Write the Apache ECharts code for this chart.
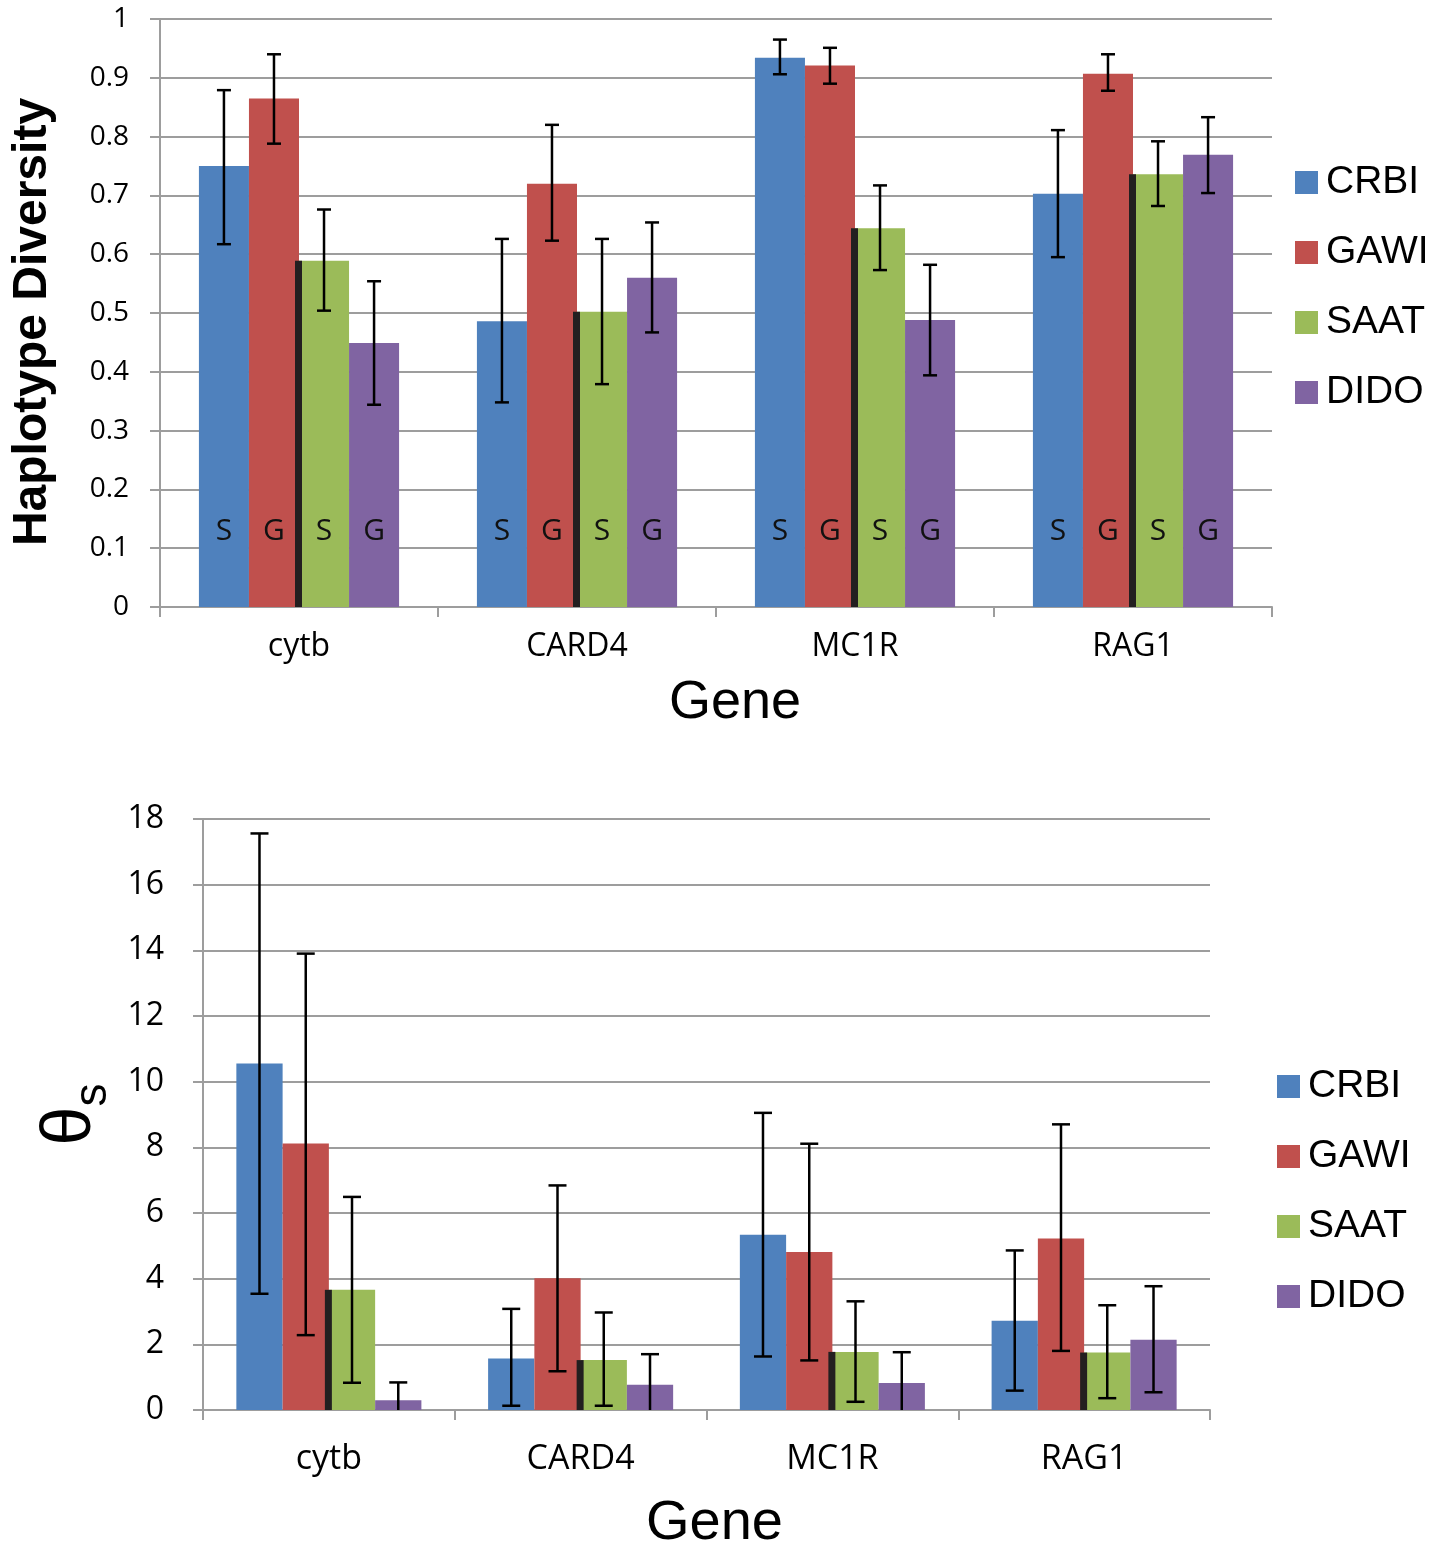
<!DOCTYPE html>
<html>
<head>
<meta charset="utf-8">
<script src="https://cdn.jsdelivr.net/npm/echarts@6/dist/echarts.min.js"></script>
<style>html,body{margin:0;padding:0;background:#fff}#c{width:1452px;height:1553px}</style>
</head>
<body>
<div id="c"></div>
<script>
// ---------- DATA ----------
const categories = ['cytb', 'CARD4', 'MC1R', 'RAG1'];
const populations = ['CRBI', 'GAWI', 'SAAT', 'DIDO'];
const barLetters = ['S', 'G', 'S', 'G'];
const hdTicks = [0, 0.1, 0.2, 0.3, 0.4, 0.5, 0.6, 0.7, 0.8, 0.9, 1];
const thetaTicks = [0, 2, 4, 6, 8, 10, 12, 14, 16, 18];

// Haplotype diversity (top chart)
const hdCRBI   = [0.750, 0.486, 0.934, 0.703];
const hdCRBIlo = [0.617, 0.348, 0.906, 0.595];
const hdCRBIhi = [0.879, 0.626, 0.965, 0.811];
const hdGAWI   = [0.865, 0.720, 0.921, 0.907];
const hdGAWIlo = [0.788, 0.623, 0.890, 0.878];
const hdGAWIhi = [0.940, 0.820, 0.951, 0.940];
const hdSAAT   = [0.589, 0.502, 0.644, 0.736];
const hdSAATlo = [0.504, 0.379, 0.573, 0.682];
const hdSAAThi = [0.676, 0.626, 0.717, 0.792];
const hdDIDO   = [0.449, 0.560, 0.488, 0.769];
const hdDIDOlo = [0.344, 0.467, 0.394, 0.704];
const hdDIDOhi = [0.554, 0.654, 0.582, 0.833];

// Theta S (bottom chart)
const thCRBI   = [10.55, 1.57, 5.34, 2.72];
const thCRBIlo = [3.54, 0.13, 1.63, 0.59];
const thCRBIhi = [17.56, 3.08, 9.05, 4.86];
const thGAWI   = [8.12, 4.01, 4.81, 5.22];
const thGAWIlo = [2.28, 1.18, 1.51, 1.80];
const thGAWIhi = [13.90, 6.84, 8.11, 8.70];
const thSAAT   = [3.66, 1.52, 1.77, 1.75];
const thSAATlo = [0.83, 0.13, 0.25, 0.36];
const thSAAThi = [6.49, 2.97, 3.31, 3.19];
const thDIDO   = [0.30, 0.77, 0.82, 2.14];
const thDIDOlo = [-0.24, -0.16, -0.12, 0.54];
const thDIDOhi = [0.84, 1.70, 1.76, 3.77];

// ---------- BUILD ----------
const colors = ['#4f81bd', '#c0504d', '#9bbb59', '#8064a2'];
const gridColor = '#9d9d9d';
const numFont = 'Open Sans';
const hdVals = [hdCRBI, hdGAWI, hdSAAT, hdDIDO];
const hdLo = [hdCRBIlo, hdGAWIlo, hdSAATlo, hdDIDOlo];
const hdHi = [hdCRBIhi, hdGAWIhi, hdSAAThi, hdDIDOhi];
const thVals = [thCRBI, thGAWI, thSAAT, thDIDO];
const thLo = [thCRBIlo, thGAWIlo, thSAATlo, thDIDOlo];
const thHi = [thCRBIhi, thGAWIhi, thSAAThi, thDIDOhi];

const GAP_TOP = 0.28, GAP_BOT = 0.265;

function errData(lo, hi) {
  const d = [];
  for (let g = 0; g < 4; g++) for (let c = 0; c < categories.length; c++) d.push([c, g, lo[g][c], hi[g][c]]);
  return d;
}
function errRenderer(gapFrac, capW) {
  return function (params, api) {
    const c = api.value(0), g = api.value(1), lo = api.value(2), hi = api.value(3);
    const band = api.size([1, 0])[0];
    const bw = band * (1 - gapFrac) / 4;
    const x = api.coord([c, 0])[0] + (g - 1.5) * bw;
    const yLo = api.coord([c, lo])[1], yHi = api.coord([c, hi])[1];
    const st = { stroke: '#000', lineWidth: 2.5 };
    return { type: 'group', children: [
      { type: 'line', shape: { x1: x, y1: yLo, x2: x, y2: yHi }, style: st },
      { type: 'line', shape: { x1: x - capW / 2, y1: yHi, x2: x + capW / 2, y2: yHi }, style: st },
      { type: 'line', shape: { x1: x - capW / 2, y1: yLo, x2: x + capW / 2, y2: yLo }, style: st }
    ]};
  };
}
function sepRenderer(params, api) {
  const c = api.value(0), v = api.value(1);
  const x = api.coord([c, 0])[0];
  const y0 = api.coord([c, 0])[1], y1 = api.coord([c, v])[1];
  return { type: 'rect', shape: { x: x - 4, y: y1, width: 7, height: y0 - y1 }, style: { fill: '#231f20' } };
}

const series = [];
populations.forEach((p, g) => {
  series.push({
    name: p, type: 'bar', xAxisIndex: 0, yAxisIndex: 0, data: hdVals[g],
    barGap: '0%', barCategoryGap: (GAP_TOP * 100) + '%',
    itemStyle: { color: colors[g] },
    label: { show: true, position: 'insideBottom', distance: 61, formatter: barLetters[g],
      color: '#111', fontSize: 30, fontFamily: numFont }
  });
});
populations.forEach((p, g) => {
  series.push({
    name: p, type: 'bar', xAxisIndex: 1, yAxisIndex: 1, data: thVals[g],
    barGap: '0%', barCategoryGap: (GAP_BOT * 100) + '%',
    itemStyle: { color: colors[g] }
  });
});
series.push({ type: 'custom', xAxisIndex: 0, yAxisIndex: 0, z: 5, renderItem: sepRenderer,
  data: categories.map((c, i) => [i, hdSAAT[i]]), clip: true });
series.push({ type: 'custom', xAxisIndex: 1, yAxisIndex: 1, z: 5, renderItem: sepRenderer,
  data: categories.map((c, i) => [i, thSAAT[i]]), clip: true });
series.push({ type: 'custom', xAxisIndex: 0, yAxisIndex: 0, z: 6, renderItem: errRenderer(GAP_TOP, 14),
  data: errData(hdLo, hdHi), clip: true });
series.push({ type: 'custom', xAxisIndex: 1, yAxisIndex: 1, z: 6, renderItem: errRenderer(GAP_BOT, 18),
  data: errData(thLo, thHi), clip: true });

const legendBase = {
  orient: 'vertical', icon: 'rect', itemWidth: 23, itemHeight: 23, itemGap: 31, padding: 0,
  data: populations,
  textStyle: { fontSize: 39, lineHeight: 39, fontFamily: 'Liberation Sans', color: '#000', padding: [0, 0, 0, 3] }
};

const option = {
  backgroundColor: '#fff',
  animation: false,
  legend: [
    Object.assign({}, legendBase, { left: 1295, top: 163 }),
    Object.assign({}, legendBase, { left: 1277, top: 1067 })
  ],
  grid: [
    { left: 160, top: 19, width: 1112, height: 588 },
    { left: 203, top: 819, width: 1007, height: 596 }
  ],
  xAxis: [
    { type: 'category', gridIndex: 0, data: categories,
      axisLine: { lineStyle: { color: gridColor, width: 2 } },
      axisTick: { show: true, length: 10, lineStyle: { color: gridColor, width: 2 } },
      axisLabel: { margin: 24, fontSize: 32, fontFamily: numFont, color: '#000' },
      name: 'Gene', nameLocation: 'middle', nameGap: 69,
      nameTextStyle: { fontSize: 54, fontFamily: 'Liberation Sans', color: '#000', padding: [0, 0, 0, 38] } },
    { type: 'category', gridIndex: 1, data: categories,
      axisLine: { lineStyle: { color: gridColor, width: 2 } },
      axisTick: { show: true, length: 10, lineStyle: { color: gridColor, width: 2 } },
      axisLabel: { margin: 32, fontSize: 34, fontFamily: numFont, color: '#000' },
      name: 'Gene', nameLocation: 'middle', nameGap: 86,
      nameTextStyle: { fontSize: 56, fontFamily: 'Liberation Sans', color: '#000', padding: [0, 0, 0, 16] } }
  ],
  yAxis: [
    { type: 'value', gridIndex: 0, min: hdTicks[0], max: hdTicks[hdTicks.length - 1], interval: 0.1,
      axisLine: { show: true, lineStyle: { color: gridColor, width: 2 } },
      axisTick: { show: true, length: 10, lineStyle: { color: gridColor, width: 2 } },
      splitLine: { lineStyle: { color: gridColor, width: 2 } },
      axisLabel: { margin: 31, fontSize: 28, fontFamily: numFont, color: '#000',
        formatter: v => { const t = hdTicks.find(k => Math.abs(k - v) < 1e-9); return t === undefined ? '' : String(t); } },
      name: 'Haplotype Diversity', nameLocation: 'middle', nameRotate: 90, nameGap: 103,
      nameTextStyle: { fontSize: 48, fontWeight: 'bold', fontFamily: 'Liberation Sans', color: '#000', padding: [0, 18, 0, 0] } },
    { type: 'value', gridIndex: 1, min: thetaTicks[0], max: thetaTicks[thetaTicks.length - 1], interval: 2,
      axisLine: { show: true, lineStyle: { color: gridColor, width: 2 } },
      axisTick: { show: true, length: 10, lineStyle: { color: gridColor, width: 2 } },
      splitLine: { lineStyle: { color: gridColor, width: 2 } },
      axisLabel: { margin: 39, fontSize: 32, fontFamily: numFont, color: '#000' },
      name: '{t|θ}{s|s}', nameLocation: 'middle', nameRotate: 90, nameGap: 84,
      nameTextStyle: { color: '#000',
        rich: {
          t: { fontSize: 70, fontFamily: 'Liberation Sans', color: '#000', verticalAlign: 'bottom', padding: [0, 0, 11, 0] },
          s: { fontSize: 46, fontFamily: 'Liberation Sans', color: '#000', verticalAlign: 'bottom' }
        } } }
  ],
  series: series
};

const chart = echarts.init(document.getElementById('c'), null, { renderer: 'canvas' });
chart.setOption(option);
</script>
</body>
</html>
